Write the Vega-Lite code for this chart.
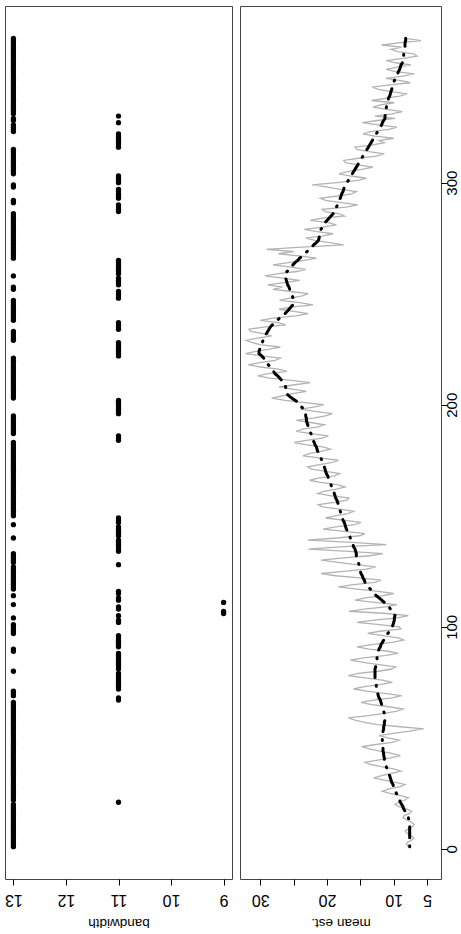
{
"$schema": "https://vega.github.io/schema/vega-lite/v6.json",
"background": "white",
"padding": {"left": 4, "top": 5, "right": 0, "bottom": 0},
"config": {
  "view": {"stroke": "#444444", "strokeWidth": 1},
  "concat": {"spacing": 6},
  "axis": {"labelFont": "Liberation Sans", "titleFont": "Liberation Sans", "labelColor": "black", "titleColor": "black", "tickColor": "black", "tickSize": 6, "domain": false, "grid": false, "labelFontSize": 16, "titleFontSize": 13.5, "titleFontWeight": "normal", "labelFlush": false, "labelOverlap": false}
},
"data": {"values": [
{"day":1,"bw":13,"raw":7.8,"est":7.6},{"day":2,"bw":13,"raw":8.1,"est":7.6},{"day":3,"bw":13,"raw":7.9,"est":7.6},{"day":4,"bw":13,"raw":7.3,"est":7.6},{"day":5,"bw":13,"raw":7.0,"est":7.6},
{"day":6,"bw":13,"raw":7.4,"est":7.6},{"day":7,"bw":13,"raw":8.0,"est":7.6},{"day":8,"bw":13,"raw":8.3,"est":7.6},{"day":9,"bw":13,"raw":7.8,"est":7.6},{"day":10,"bw":13,"raw":7.2,"est":7.6},
{"day":11,"bw":13,"raw":6.9,"est":7.6},{"day":12,"bw":13,"raw":7.3,"est":7.6},{"day":13,"bw":13,"raw":8.0,"est":7.7},{"day":14,"bw":13,"raw":8.6,"est":7.8},{"day":15,"bw":13,"raw":8.4,"est":8.0},
{"day":16,"bw":13,"raw":7.6,"est":8.1},{"day":17,"bw":13,"raw":7.3,"est":8.3},{"day":18,"bw":13,"raw":8.1,"est":8.5},{"day":19,"bw":13,"raw":9.2,"est":8.6},{"day":20,"bw":13,"raw":9.8,"est":8.8},
{"day":21,"bw":11,"raw":9.3,"est":9.0},{"day":22,"bw":13,"raw":8.3,"est":9.1},{"day":23,"bw":13,"raw":7.8,"est":9.3},{"day":24,"bw":13,"raw":8.9,"est":9.4},{"day":25,"bw":13,"raw":10.6,"est":9.6},
{"day":26,"bw":13,"raw":11.7,"est":9.7},{"day":27,"bw":13,"raw":10.7,"est":9.9},{"day":28,"bw":13,"raw":9.0,"est":10.0},{"day":29,"bw":13,"raw":8.3,"est":10.1},{"day":30,"bw":13,"raw":9.7,"est":10.3},
{"day":31,"bw":13,"raw":11.4,"est":10.4},{"day":32,"bw":13,"raw":13.0,"est":10.5},{"day":33,"bw":13,"raw":11.8,"est":10.6},{"day":34,"bw":13,"raw":10.3,"est":10.8},{"day":35,"bw":13,"raw":8.9,"est":10.9},
{"day":36,"bw":13,"raw":10.0,"est":11.0},{"day":37,"bw":13,"raw":11.9,"est":11.1},{"day":38,"bw":13,"raw":13.4,"est":11.2},{"day":39,"bw":13,"raw":14.3,"est":11.3},{"day":40,"bw":13,"raw":12.4,"est":11.4},
{"day":41,"bw":13,"raw":10.4,"est":11.4},{"day":42,"bw":13,"raw":9.0,"est":11.5},{"day":43,"bw":13,"raw":10.3,"est":11.5},{"day":44,"bw":13,"raw":12.1,"est":11.6},{"day":45,"bw":13,"raw":13.6,"est":11.6},
{"day":46,"bw":13,"raw":14.8,"est":11.6},{"day":47,"bw":13,"raw":12.7,"est":11.7},{"day":48,"bw":13,"raw":10.2,"est":11.7},{"day":49,"bw":13,"raw":9.2,"est":11.7},{"day":50,"bw":13,"raw":10.9,"est":11.7},
{"day":51,"bw":13,"raw":12.2,"est":11.7},{"day":52,"bw":13,"raw":10.1,"est":11.6},{"day":53,"bw":13,"raw":7.6,"est":11.6},{"day":54,"bw":13,"raw":5.5,"est":11.5},{"day":55,"bw":13,"raw":9.0,"est":11.5},
{"day":56,"bw":13,"raw":12.4,"est":11.4},{"day":57,"bw":13,"raw":14.4,"est":11.4},{"day":58,"bw":13,"raw":15.8,"est":11.3},{"day":59,"bw":13,"raw":16.8,"est":11.3},{"day":60,"bw":13,"raw":13.8,"est":11.3},
{"day":61,"bw":13,"raw":11.4,"est":11.4},{"day":62,"bw":13,"raw":9.5,"est":11.5},{"day":63,"bw":13,"raw":8.6,"est":11.6},{"day":64,"bw":13,"raw":10.7,"est":11.7},{"day":65,"bw":13,"raw":13.3,"est":11.8},
{"day":66,"bw":13,"raw":14.9,"est":11.9},{"day":67,"bw":11,"raw":13.0,"est":12.0},{"day":68,"bw":11,"raw":10.2,"est":12.2},{"day":69,"bw":13,"raw":8.8,"est":12.3},{"day":70,"bw":13,"raw":11.4,"est":12.4},
{"day":71,"bw":13,"raw":14.0,"est":12.5},{"day":72,"bw":11,"raw":16.0,"est":12.5},{"day":73,"bw":11,"raw":14.6,"est":12.6},{"day":74,"bw":11,"raw":12.1,"est":12.6},{"day":75,"bw":11,"raw":10.2,"est":12.7},
{"day":76,"bw":11,"raw":11.7,"est":12.7},{"day":77,"bw":11,"raw":14.3,"est":12.8},{"day":78,"bw":11,"raw":16.8,"est":12.8},{"day":79,"bw":11,"raw":15.3,"est":12.8},{"day":80,"bw":13,"raw":12.3,"est":12.8},
{"day":81,"bw":11,"raw":10.3,"est":12.8},{"day":82,"bw":11,"raw":9.7,"est":12.7},{"day":83,"bw":11,"raw":12.2,"est":12.7},{"day":84,"bw":11,"raw":14.6,"est":12.6},{"day":85,"bw":11,"raw":16.5,"est":12.5},
{"day":86,"bw":11,"raw":14.5,"est":12.5},{"day":87,"bw":11,"raw":11.4,"est":12.4},{"day":88,"bw":11,"raw":9.3,"est":12.3},{"day":89,"bw":13,"raw":10.8,"est":12.3},{"day":90,"bw":13,"raw":13.7,"est":12.2},
{"day":91,"bw":11,"raw":15.5,"est":12.0},{"day":92,"bw":11,"raw":13.4,"est":11.9},{"day":93,"bw":11,"raw":10.2,"est":11.7},{"day":94,"bw":11,"raw":8.5,"est":11.5},{"day":95,"bw":11,"raw":9.3,"est":11.3},
{"day":96,"bw":11,"raw":11.6,"est":11.1},{"day":97,"bw":13,"raw":13.9,"est":10.9},{"day":98,"bw":13,"raw":12.1,"est":10.6},{"day":99,"bw":13,"raw":8.9,"est":10.4},{"day":100,"bw":13,"raw":9.2,"est":10.2},
{"day":101,"bw":13,"raw":12.1,"est":10.1},{"day":102,"bw":11,"raw":15.5,"est":10.0},{"day":103,"bw":11,"raw":12.9,"est":9.9},{"day":104,"bw":13,"raw":9.4,"est":9.9},{"day":105,"bw":11,"raw":7.8,"est":9.8},
{"day":106,"bw":9,"raw":11.0,"est":10.0},{"day":107,"bw":9,"raw":16.7,"est":10.2},{"day":108,"bw":11,"raw":14.5,"est":10.5},{"day":109,"bw":11,"raw":11.2,"est":10.7},{"day":110,"bw":13,"raw":9.5,"est":11.0},
{"day":111,"bw":9,"raw":12.9,"est":11.4},{"day":112,"bw":11,"raw":15.8,"est":11.8},{"day":113,"bw":11,"raw":14.2,"est":12.2},{"day":114,"bw":13,"raw":11.6,"est":12.6},{"day":115,"bw":11,"raw":10.0,"est":13.0},
{"day":116,"bw":11,"raw":12.3,"est":13.3},{"day":117,"bw":13,"raw":15.5,"est":13.5},{"day":118,"bw":13,"raw":18.3,"est":13.8},{"day":119,"bw":13,"raw":16.0,"est":14.0},{"day":120,"bw":13,"raw":12.8,"est":14.3},
{"day":121,"bw":13,"raw":11.9,"est":14.4},{"day":122,"bw":13,"raw":15.1,"est":14.6},{"day":123,"bw":13,"raw":18.7,"est":14.7},{"day":124,"bw":13,"raw":20.9,"est":14.9},{"day":125,"bw":13,"raw":17.5,"est":15.0},
{"day":126,"bw":13,"raw":14.1,"est":15.1},{"day":127,"bw":13,"raw":12.7,"est":15.2},{"day":128,"bw":11,"raw":15.7,"est":15.2},{"day":129,"bw":13,"raw":18.3,"est":15.3},{"day":130,"bw":13,"raw":20.9,"est":15.4},
{"day":131,"bw":13,"raw":17.5,"est":15.5},{"day":132,"bw":13,"raw":13.6,"est":15.6},{"day":133,"bw":13,"raw":11.6,"est":15.6},{"day":134,"bw":11,"raw":16.7,"est":15.7},{"day":135,"bw":11,"raw":22.8,"est":15.8},
{"day":136,"bw":11,"raw":18.0,"est":16.0},{"day":137,"bw":11,"raw":11.1,"est":16.1},{"day":138,"bw":11,"raw":16.2,"est":16.2},{"day":139,"bw":11,"raw":22.9,"est":16.4},{"day":140,"bw":13,"raw":18.5,"est":16.5},
{"day":141,"bw":11,"raw":15.1,"est":16.6},{"day":142,"bw":11,"raw":14.3,"est":16.8},{"day":143,"bw":11,"raw":17.4,"est":16.9},{"day":144,"bw":11,"raw":20.6,"est":17.1},{"day":145,"bw":11,"raw":18.7,"est":17.2},
{"day":146,"bw":13,"raw":15.8,"est":17.3},{"day":147,"bw":11,"raw":14.9,"est":17.4},{"day":148,"bw":11,"raw":17.6,"est":17.6},{"day":149,"bw":11,"raw":20.2,"est":17.7},{"day":150,"bw":13,"raw":18.8,"est":17.8},
{"day":151,"bw":13,"raw":16.9,"est":17.9},{"day":152,"bw":13,"raw":16.0,"est":18.0},{"day":153,"bw":13,"raw":18.1,"est":18.1},{"day":154,"bw":13,"raw":20.7,"est":18.2},{"day":155,"bw":13,"raw":21.3,"est":18.3},
{"day":156,"bw":13,"raw":18.9,"est":18.4},{"day":157,"bw":13,"raw":17.0,"est":18.5},{"day":158,"bw":13,"raw":16.7,"est":18.7},{"day":159,"bw":13,"raw":19.3,"est":18.8},{"day":160,"bw":13,"raw":21.4,"est":18.9},
{"day":161,"bw":13,"raw":20.5,"est":19.0},{"day":162,"bw":13,"raw":18.6,"est":19.1},{"day":163,"bw":13,"raw":17.3,"est":19.3},{"day":164,"bw":13,"raw":18.4,"est":19.4},{"day":165,"bw":13,"raw":21.0,"est":19.5},
{"day":166,"bw":13,"raw":22.6,"est":19.6},{"day":167,"bw":13,"raw":21.3,"est":19.8},{"day":168,"bw":13,"raw":18.9,"est":19.9},{"day":169,"bw":13,"raw":18.1,"est":20.1},{"day":170,"bw":13,"raw":20.2,"est":20.2},
{"day":171,"bw":13,"raw":22.3,"est":20.3},{"day":172,"bw":13,"raw":22.9,"est":20.4},{"day":173,"bw":13,"raw":21.1,"est":20.6},{"day":174,"bw":13,"raw":19.2,"est":20.7},{"day":175,"bw":13,"raw":18.3,"est":20.8},
{"day":176,"bw":13,"raw":20.9,"est":20.9},{"day":177,"bw":13,"raw":23.6,"est":21.1},{"day":178,"bw":13,"raw":22.7,"est":21.2},{"day":179,"bw":13,"raw":20.9,"est":21.4},{"day":180,"bw":13,"raw":19.5,"est":21.5},
{"day":181,"bw":13,"raw":20.6,"est":21.6},{"day":182,"bw":13,"raw":23.3,"est":21.8},{"day":183,"bw":13,"raw":24.9,"est":21.9},{"day":184,"bw":11,"raw":23.1,"est":22.1},{"day":185,"bw":11,"raw":20.7,"est":22.2},
{"day":186,"bw":11,"raw":19.8,"est":22.3},{"day":187,"bw":13,"raw":22.4,"est":22.4},{"day":188,"bw":13,"raw":24.6,"est":22.6},{"day":189,"bw":13,"raw":23.7,"est":22.7},{"day":190,"bw":13,"raw":21.3,"est":22.8},
{"day":191,"bw":13,"raw":20.4,"est":22.9},{"day":192,"bw":13,"raw":22.5,"est":23.0},{"day":193,"bw":13,"raw":24.6,"est":23.1},{"day":194,"bw":13,"raw":22.1,"est":23.1},{"day":195,"bw":13,"raw":20.2,"est":23.2},
{"day":196,"bw":11,"raw":19.2,"est":23.2},{"day":197,"bw":11,"raw":21.8,"est":23.3},{"day":198,"bw":11,"raw":24.0,"est":23.5},{"day":199,"bw":11,"raw":21.8,"est":23.8},{"day":200,"bw":11,"raw":20.5,"est":24.0},
{"day":201,"bw":11,"raw":23.3,"est":24.3},{"day":202,"bw":11,"raw":26.3,"est":24.8},{"day":203,"bw":13,"raw":28.3,"est":25.3},{"day":204,"bw":13,"raw":26.7,"est":25.7},{"day":205,"bw":13,"raw":25.1,"est":26.1},
{"day":206,"bw":13,"raw":23.1,"est":26.1},{"day":207,"bw":13,"raw":25.2,"est":26.2},{"day":208,"bw":13,"raw":27.2,"est":26.2},{"day":209,"bw":13,"raw":24.8,"est":26.3},{"day":210,"bw":13,"raw":22.5,"est":26.5},
{"day":211,"bw":13,"raw":25.3,"est":26.8},{"day":212,"bw":13,"raw":28.6,"est":27.1},{"day":213,"bw":13,"raw":30.4,"est":27.4},{"day":214,"bw":13,"raw":28.8,"est":27.8},{"day":215,"bw":13,"raw":26.0,"est":28.0},
{"day":216,"bw":13,"raw":27.3,"est":28.3},{"day":217,"bw":13,"raw":30.0,"est":28.5},{"day":218,"bw":13,"raw":31.8,"est":28.8},{"day":219,"bw":13,"raw":30.1,"est":29.1},{"day":220,"bw":13,"raw":27.8,"est":29.3},
{"day":221,"bw":13,"raw":27.0,"est":29.5},{"day":222,"bw":11,"raw":29.8,"est":29.8},{"day":223,"bw":11,"raw":32.2,"est":30.2},{"day":224,"bw":11,"raw":30.7,"est":30.2},{"day":225,"bw":11,"raw":28.6,"est":30.1},
{"day":226,"bw":11,"raw":27.0,"est":30.0},{"day":227,"bw":11,"raw":29.9,"est":29.9},{"day":228,"bw":11,"raw":31.2,"est":29.7},{"day":229,"bw":13,"raw":32.1,"est":29.6},{"day":230,"bw":13,"raw":30.4,"est":29.4},
{"day":231,"bw":13,"raw":28.3,"est":29.3},{"day":232,"bw":13,"raw":29.6,"est":29.1},{"day":233,"bw":13,"raw":31.4,"est":28.9},{"day":234,"bw":11,"raw":31.7,"est":28.7},{"day":235,"bw":11,"raw":29.5,"est":28.5},
{"day":236,"bw":11,"raw":26.2,"est":28.2},{"day":237,"bw":11,"raw":27.3,"est":27.8},{"day":238,"bw":13,"raw":30.0,"est":27.5},{"day":239,"bw":13,"raw":28.1,"est":27.1},{"day":240,"bw":13,"raw":24.7,"est":26.7},
{"day":241,"bw":13,"raw":22.8,"est":26.3},{"day":242,"bw":13,"raw":25.0,"est":26.0},{"day":243,"bw":13,"raw":27.2,"est":25.7},{"day":244,"bw":13,"raw":25.4,"est":25.4},{"day":245,"bw":13,"raw":22.1,"est":25.1},
{"day":246,"bw":13,"raw":24.1,"est":25.1},{"day":247,"bw":13,"raw":27.1,"est":25.1},{"day":248,"bw":11,"raw":25.6,"est":25.1},{"day":249,"bw":11,"raw":23.7,"est":25.2},{"day":250,"bw":11,"raw":22.8,"est":25.3},
{"day":251,"bw":11,"raw":25.4,"est":25.4},{"day":252,"bw":13,"raw":28.1,"est":25.6},{"day":253,"bw":13,"raw":26.7,"est":25.7},{"day":254,"bw":11,"raw":28.9,"est":25.9},{"day":255,"bw":11,"raw":26.5,"est":26.0},
{"day":256,"bw":11,"raw":24.1,"est":26.1},{"day":257,"bw":11,"raw":26.7,"est":26.2},{"day":258,"bw":13,"raw":29.3,"est":26.3},{"day":259,"bw":11,"raw":27.3,"est":26.3},{"day":260,"bw":11,"raw":24.5,"est":26.0},
{"day":261,"bw":11,"raw":23.2,"est":25.7},{"day":262,"bw":11,"raw":25.4,"est":25.4},{"day":263,"bw":11,"raw":28.1,"est":25.1},{"day":264,"bw":11,"raw":25.8,"est":24.8},{"day":265,"bw":11,"raw":23.4,"est":24.4},
{"day":266,"bw":13,"raw":21.6,"est":24.1},{"day":267,"bw":13,"raw":24.2,"est":23.7},{"day":268,"bw":13,"raw":27.3,"est":23.3},{"day":269,"bw":13,"raw":25.0,"est":23.0},{"day":270,"bw":13,"raw":29.1,"est":22.6},
{"day":271,"bw":13,"raw":23.8,"est":22.3},{"day":272,"bw":13,"raw":17.5,"est":22.0},{"day":273,"bw":13,"raw":19.6,"est":21.6},{"day":274,"bw":13,"raw":21.8,"est":21.3},{"day":275,"bw":13,"raw":23.2,"est":21.2},
{"day":276,"bw":13,"raw":20.6,"est":21.1},{"day":277,"bw":13,"raw":19.1,"est":21.1},{"day":278,"bw":13,"raw":21.5,"est":21.0},{"day":279,"bw":13,"raw":23.4,"est":20.9},{"day":280,"bw":13,"raw":20.7,"est":20.7},
{"day":281,"bw":13,"raw":18.6,"est":20.6},{"day":282,"bw":13,"raw":19.8,"est":20.3},{"day":283,"bw":13,"raw":22.5,"est":20.0},{"day":284,"bw":13,"raw":20.7,"est":19.7},{"day":285,"bw":13,"raw":17.4,"est":19.4},
{"day":286,"bw":13,"raw":18.1,"est":19.1},{"day":287,"bw":11,"raw":20.3,"est":18.8},{"day":288,"bw":11,"raw":20.7,"est":18.7},{"day":289,"bw":11,"raw":17.1,"est":18.6},{"day":290,"bw":11,"raw":15.4,"est":18.4},
{"day":291,"bw":13,"raw":17.8,"est":18.3},{"day":292,"bw":13,"raw":20.2,"est":18.2},{"day":293,"bw":11,"raw":21.0,"est":18.0},{"day":294,"bw":11,"raw":18.4,"est":17.9},{"day":295,"bw":11,"raw":16.3,"est":17.8},
{"day":296,"bw":11,"raw":15.6,"est":17.6},{"day":297,"bw":11,"raw":18.0,"est":17.5},{"day":298,"bw":13,"raw":19.9,"est":17.4},{"day":299,"bw":13,"raw":22.2,"est":17.2},{"day":300,"bw":11,"raw":18.5,"est":17.0},
{"day":301,"bw":11,"raw":15.3,"est":16.8},{"day":302,"bw":11,"raw":14.1,"est":16.6},{"day":303,"bw":11,"raw":16.4,"est":16.4},{"day":304,"bw":13,"raw":18.2,"est":16.2},{"day":305,"bw":13,"raw":17.0,"est":16.0},
{"day":306,"bw":13,"raw":14.8,"est":15.8},{"day":307,"bw":13,"raw":13.1,"est":15.6},{"day":308,"bw":13,"raw":15.4,"est":15.4},{"day":309,"bw":13,"raw":17.2,"est":15.2},{"day":310,"bw":13,"raw":17.5,"est":15.0},
{"day":311,"bw":13,"raw":15.3,"est":14.8},{"day":312,"bw":13,"raw":12.6,"est":14.6},{"day":313,"bw":13,"raw":11.4,"est":14.4},{"day":314,"bw":13,"raw":13.7,"est":14.2},{"day":315,"bw":13,"raw":15.5,"est":14.0},
{"day":316,"bw":11,"raw":15.8,"est":13.8},{"day":317,"bw":11,"raw":13.1,"est":13.6},{"day":318,"bw":11,"raw":11.4,"est":13.4},{"day":319,"bw":11,"raw":12.2,"est":13.2},{"day":320,"bw":11,"raw":10.0,"est":13.0},
{"day":321,"bw":11,"raw":12.8,"est":12.8},{"day":322,"bw":11,"raw":14.6,"est":12.6},{"day":323,"bw":13,"raw":13.4,"est":12.4},{"day":324,"bw":13,"raw":10.7,"est":12.2},{"day":325,"bw":13,"raw":9.5,"est":12.0},
{"day":326,"bw":13,"raw":12.3,"est":11.8},{"day":327,"bw":11,"raw":14.7,"est":11.7},{"day":328,"bw":13,"raw":12.5,"est":11.5},{"day":329,"bw":13,"raw":9.8,"est":11.3},{"day":330,"bw":11,"raw":12.8,"est":11.3},
{"day":331,"bw":13,"raw":10.2,"est":11.2},{"day":332,"bw":13,"raw":8.7,"est":11.2},{"day":333,"bw":13,"raw":11.1,"est":11.1},{"day":334,"bw":13,"raw":13.1,"est":11.1},{"day":335,"bw":13,"raw":12.0,"est":11.0},
{"day":336,"bw":13,"raw":9.9,"est":10.9},{"day":337,"bw":13,"raw":13.3,"est":10.8},{"day":338,"bw":13,"raw":11.3,"est":10.8},{"day":339,"bw":13,"raw":9.1,"est":10.6},{"day":340,"bw":13,"raw":8.0,"est":10.5},
{"day":341,"bw":13,"raw":10.4,"est":10.4},{"day":342,"bw":13,"raw":12.3,"est":10.3},{"day":343,"bw":13,"raw":13.2,"est":10.2},{"day":344,"bw":13,"raw":10.6,"est":10.1},{"day":345,"bw":13,"raw":7.5,"est":10.0},
{"day":346,"bw":13,"raw":8.9,"est":9.9},{"day":347,"bw":13,"raw":11.2,"est":9.7},{"day":348,"bw":13,"raw":8.6,"est":9.6},{"day":349,"bw":13,"raw":6.9,"est":9.4},{"day":350,"bw":13,"raw":9.8,"est":9.3},
{"day":351,"bw":13,"raw":11.1,"est":9.1},{"day":352,"bw":13,"raw":9.5,"est":9.0},{"day":353,"bw":13,"raw":7.4,"est":8.9},{"day":354,"bw":13,"raw":9.7,"est":8.7},{"day":355,"bw":13,"raw":11.1,"est":8.6},
{"day":356,"bw":13,"raw":8.6,"est":8.6},{"day":357,"bw":13,"raw":6.5,"est":8.5},{"day":358,"bw":13,"raw":7.0,"est":8.5},{"day":359,"bw":13,"raw":9.4,"est":8.4},{"day":360,"bw":13,"raw":10.4,"est":8.4},
{"day":361,"bw":13,"raw":8.8,"est":8.3},{"day":362,"bw":13,"raw":11.8,"est":8.3},{"day":363,"bw":13,"raw":9.3,"est":8.3},{"day":364,"bw":13,"raw":5.9,"est":8.2},{"day":365,"bw":13,"raw":8.2,"est":8.2}
]},
"hconcat": [
 {"width": 227, "height": 873,
  "mark": {"type": "circle", "size": 28, "color": "black", "opacity": 1},
  "encoding": {
   "x": {"field": "bw", "type": "quantitative", "scale": {"domain": [8.84, 13.16], "reverse": true, "nice": false, "zero": false},
         "axis": {"values": [9, 10, 11, 12, 13], "title": "bandwidth", "labelAngle": 180, "labelAlign": "center", "labelBaseline": "middle", "labelPadding": 14, "titleAngle": 180, "titleBaseline": "middle", "titleY": 43}},
   "y": {"field": "day", "type": "quantitative", "scale": {"domain": [-13.56, 379.56], "nice": false, "zero": false}, "axis": null}
  }},
 {"width": 201, "height": 873,
  "encoding": {
   "y": {"field": "day", "type": "quantitative", "scale": {"domain": [-13.56, 379.56], "nice": false, "zero": false},
         "axis": {"orient": "right", "values": [0, 100, 200, 300], "title": null, "labelAngle": -90, "labelAlign": "center", "labelBaseline": "middle", "labelPadding": 4, "labelFontSize": 15}},
   "order": {"field": "day", "type": "quantitative"}
  },
  "layer": [
   {"mark": {"type": "line", "color": "#b3b3b3", "strokeWidth": 1.3},
    "encoding": {"x": {"field": "raw", "type": "quantitative", "scale": {"domain": [2.9, 33.05], "reverse": true, "nice": false, "zero": false},
      "axis": {"values": [5, 10, 15, 20, 25, 30], "labelExpr": "datum.value == 15 || datum.value == 25 ? '' : datum.label", "title": "mean est.", "labelAngle": 180, "labelAlign": "center", "labelBaseline": "middle", "labelPadding": 14, "titleAngle": 180, "titleBaseline": "middle", "titleY": 43}}}},
   {"mark": {"type": "line", "color": "black", "strokeWidth": 3, "strokeDash": [1, 8, 11, 8], "strokeCap": "round"},
    "encoding": {"x": {"field": "est", "type": "quantitative"}}}
  ]}
]
}
